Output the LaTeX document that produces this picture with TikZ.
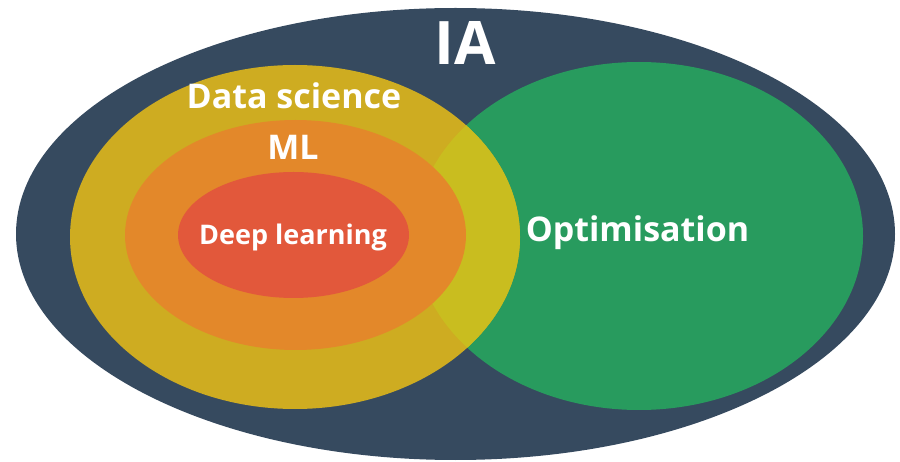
\documentclass[tikz,border=0pt]{standalone}
\usepackage{fontspec}
\setmainfont{Open Sans}
\definecolor{iabg}{HTML}{364A5F}
\definecolor{dsyel}{HTML}{CEAC21}
\definecolor{lensyel}{HTML}{C9BD1F}
\definecolor{mlorg}{HTML}{E3882A}
\definecolor{dlred}{HTML}{E2583B}
\definecolor{optgrn}{HTML}{289B5E}
\tikzset{
  lbl/.style={text=white,inner sep=0pt,anchor=base},
}
\begin{document}
\begin{tikzpicture}[x=1pt,y=-1pt]
\useasboundingbox (0,0) rectangle (900,462);
\fill[iabg] (455.5,234) ellipse [x radius=439.5,y radius=226];
\fill[optgrn] (639,236) ellipse [x radius=224,y radius=174];
\fill[dsyel] (295,237) ellipse [x radius=225,y radius=172];
\begin{scope}
  \clip (639,236) ellipse [x radius=224,y radius=174];
  \fill[lensyel] (295,237) ellipse [x radius=225,y radius=172];
\end{scope}
\fill[mlorg] (295.5,235) ellipse [x radius=170.5,y radius=115];
\fill[dlred] (293.5,235) ellipse [x radius=115.5,y radius=63];
\node[lbl,font=\fontsize{60}{66}\selectfont\bfseries] (ia) at (465,65) {IA};
\node[lbl,font=\fontsize{34}{38}\selectfont\bfseries] (ds) at (294,109) {Data science};
\node[lbl,font=\fontsize{34}{38}\selectfont\bfseries] (ml) at (293,160) {ML};
\node[lbl,font=\fontsize{27}{32}\selectfont\bfseries] (dl) at (293,245) {Deep learning};
\node[lbl,font=\fontsize{34}{38}\selectfont\bfseries] (opt) at (637.5,242) {Optimisation};
\end{tikzpicture}
\end{document}
